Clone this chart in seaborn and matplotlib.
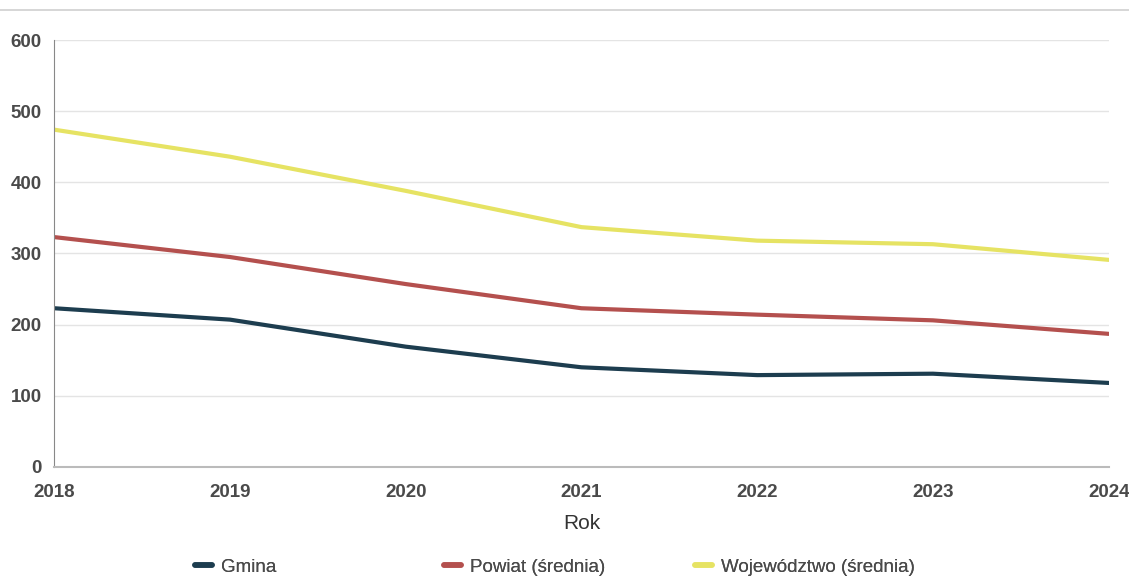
import pandas as pd
import matplotlib.pyplot as plt
import seaborn as sns
from matplotlib.lines import Line2D

# dane
lata = [2018, 2019, 2020, 2021, 2022, 2023, 2024]
gmina = [223, 207, 169, 140, 129, 131, 118]
powiat = [323, 295, 257, 223, 214, 206, 187]
wojewodztwo = [474, 436, 388, 337, 318, 313, 291]

serie = ['Gmina', 'Powiat (średnia)', 'Województwo (średnia)']
kolory = ['#1d3d4f', '#b4504e', '#e6e363']

df = pd.DataFrame({
    'Rok': lata * 3,
    'Wartość': gmina + powiat + wojewodztwo,
    'Seria': [serie[0]] * 7 + [serie[1]] * 7 + [serie[2]] * 7,
})

sns.set_style('white')
plt.rcParams['font.family'] = ['Liberation Sans', 'DejaVu Sans']

fig = plt.figure(figsize=(11.29, 5.8), dpi=100)
ax = fig.add_axes([0.048, 0.195, 0.934, 0.736])

sns.lineplot(data=df, x='Rok', y='Wartość', hue='Seria', palette=kolory,
             linewidth=3, ax=ax, legend=False)

ax.set_xlim(2018, 2024)
ax.set_ylim(0, 600)
ax.set_yticks(range(0, 601, 100))
ax.set_xticks(lata)
ax.set_xticklabels([str(r) for r in lata])
ax.yaxis.grid(True, color='#e4e4e4', linewidth=1)
ax.tick_params(axis='both', length=0, labelsize=13.5, colors='#4a4a4a')
ax.tick_params(axis='x', pad=12)
ax.tick_params(axis='y', pad=9)
for t in ax.get_xticklabels() + ax.get_yticklabels():
    t.set_fontweight('bold')

for s in ['top', 'right']:
    ax.spines[s].set_visible(False)
ax.spines['left'].set_color('#888888')
ax.spines['bottom'].set_color('#bbbbbb')
ax.spines['bottom'].set_linewidth(1.5)

ax.set_xlabel('Rok', fontsize=15, color='#333333', labelpad=10)
ax.set_ylabel('')

# legenda - trzy osobne wpisy rozstawione jak w oryginale
pozycje = [195, 444, 695]
for nazwa, kolor, px in zip(serie, kolory, pozycje):
    leg = fig.legend([Line2D([0], [0], color=kolor, linewidth=4)], [nazwa],
                     loc='center left', bbox_to_anchor=(px / 1129, 0.022),
                     frameon=False, fontsize=13.5, handlelength=0.9,
                     handletextpad=0.5, borderpad=0, borderaxespad=0,
                     labelcolor='#4a4a4a')
    fig.add_artist(leg)

# linia pod tytułem (tytuł ucięty w skanie)
fig.add_artist(Line2D([0.0, 1.0], [0.982, 0.982], color='#cfcfcf', linewidth=1.2))

fig.savefig('out.png', dpi=100)
